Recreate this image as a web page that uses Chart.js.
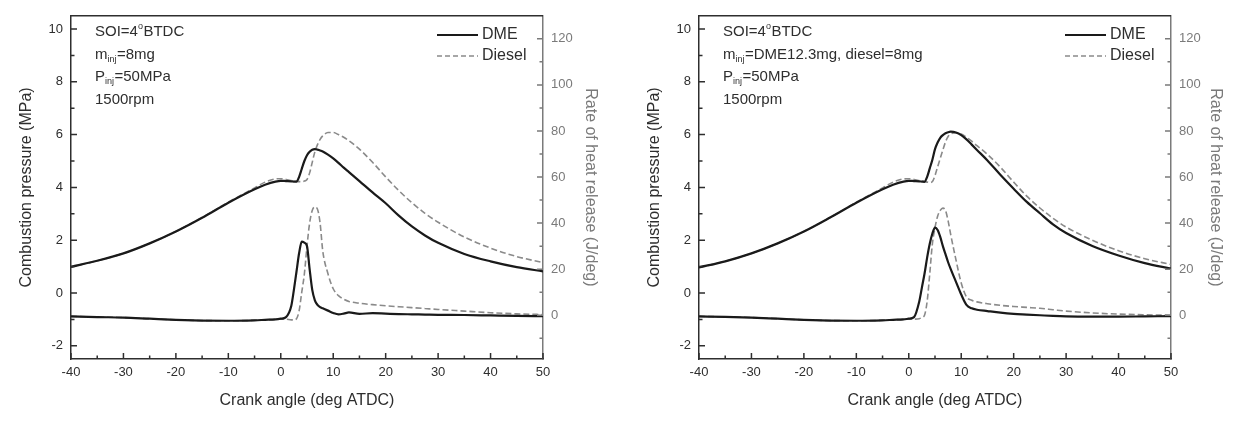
<!DOCTYPE html>
<html>
<head>
<meta charset="utf-8">
<script src="https://cdn.jsdelivr.net/npm/chart.js@4.4.1/dist/chart.umd.min.js"></script>
<style>
  html, body { margin: 0; padding: 0; background: #fff; }
  #wrap { position: relative; width: 1238px; height: 431px; }
  .panel { position: absolute; top: 0; width: 619px; height: 431px; }
</style>
</head>
<body>
<div id="wrap">
  <div class="panel" style="left:0"><canvas id="chartA"></canvas></div>
  <div class="panel" style="left:619px"><canvas id="chartB"></canvas></div>
</div>
<script>
// crank angle samples (deg ATDC), shared by every series
const crankAngle = [-40, -35, -30, -25, -20, -15, -10, -5, -3, -1, 0, 1, 2, 2.5, 3, 3.5, 4, 4.5, 5, 5.5,
  6, 6.5, 7, 7.5, 8, 9, 10, 11, 12, 13, 15, 17.5, 20, 22.5, 25, 27.5, 30, 35, 40, 45, 50];

// left panel: m_inj = 8mg
const dmePressA = [0.99, 1.22, 1.5, 1.88, 2.33, 2.85, 3.42, 3.93, 4.1, 4.22, 4.25, 4.24, 4.23, 4.22, 4.22, 4.4, 4.7, 5.0, 5.22, 5.35,
  5.43, 5.45, 5.43, 5.4, 5.36, 5.24, 5.1, 4.93, 4.75, 4.58, 4.24, 3.81, 3.4, 2.93, 2.52, 2.18, 1.9, 1.48, 1.2, 0.98, 0.82];
const dieselPressA = [0.99, 1.22, 1.5, 1.88, 2.33, 2.86, 3.44, 3.98, 4.2, 4.32, 4.33, 4.3, 4.26, 4.24, 4.22, 4.22, 4.22, 4.24, 4.3, 4.55,
  4.95, 5.35, 5.62, 5.82, 5.95, 6.08, 6.08, 6.0, 5.9, 5.77, 5.45, 4.95, 4.4, 3.88, 3.42, 3.02, 2.68, 2.12, 1.7, 1.38, 1.15];
const dmeHeatA = [-0.5, -0.8, -1, -1.5, -2, -2.3, -2.4, -2.2, -2, -1.8, -1.5, -0.8, 4, 11, 19, 27, 32, 31.5, 30, 20,
  11, 6.5, 4.5, 3.5, 3, 2, 1, 0.4, 0.7, 1.2, 0.6, 0.9, 0.7, 0.5, 0.4, 0.3, 0.2, 0.1, -0.1, -0.3, -0.4];
const dieselHeatA = [-0.5, -0.8, -1, -1.5, -2, -2.3, -2.4, -2.2, -2, -1.8, -1.7, -1.7, -2, -2, -1.5, 2, 10, 18, 30, 40,
  45.5, 47, 46, 40, 28, 18, 11.5, 8.5, 7, 6, 5.2, 4.6, 4.1, 3.7, 3.3, 2.9, 2.5, 1.8, 1.1, 0.6, 0.3];

// right panel: m_inj = DME 12.3mg, diesel 8mg
const dmePressB = [0.97, 1.2, 1.5, 1.88, 2.33, 2.86, 3.42, 3.93, 4.1, 4.22, 4.25, 4.24, 4.23, 4.22, 4.21, 4.4, 4.72, 5.05, 5.45, 5.7,
  5.88, 5.98, 6.05, 6.09, 6.11, 6.08, 5.98, 5.82, 5.62, 5.42, 5.02, 4.47, 3.95, 3.45, 3.02, 2.6, 2.27, 1.78, 1.42, 1.13, 0.92];
const dieselPressB = [0.97, 1.2, 1.5, 1.88, 2.33, 2.86, 3.44, 3.98, 4.2, 4.32, 4.33, 4.3, 4.26, 4.24, 4.22, 4.2, 4.18, 4.22, 4.45, 4.78,
  5.1, 5.42, 5.72, 5.93, 6.02, 6.07, 6.02, 5.9, 5.75, 5.58, 5.25, 4.76, 4.2, 3.67, 3.22, 2.83, 2.5, 2.0, 1.6, 1.3, 1.08];
const dmeHeatB = [-0.5, -0.7, -1, -1.5, -2, -2.3, -2.4, -2.2, -2, -1.8, -1.5, -0.8, 6, 12, 18, 25, 31, 35.5, 38, 37,
  34, 30, 26.5, 23, 20, 14.5, 9, 4.5, 3, 2.4, 1.8, 1.1, 0.6, 0.3, 0, -0.3, -0.5, -0.6, -0.6, -0.5, -0.4];
const dieselHeatB = [-0.5, -0.7, -1, -1.5, -2, -2.3, -2.4, -2.2, -2, -1.8, -1.7, -1.7, -1.5, -1, 0, 6, 18, 31, 38, 43,
  45.5, 46.5, 45.5, 41, 35, 24, 14, 8, 6.5, 5.8, 5, 4.3, 3.8, 3.4, 3, 2.4, 1.8, 1, 0.5, 0.2, 0];

// axis ticks
const angleTicks = [-40, -30, -20, -10, 0, 10, 20, 30, 40, 50];
const angleMinor = [-35, -25, -15, -5, 5, 15, 25, 35, 45];
const pressTicks = [-2, 0, 2, 4, 6, 8, 10];
const pressMinor = [-1, 1, 3, 5, 7, 9];
const heatTicks = [0, 20, 40, 60, 80, 100, 120];
const heatMinor = [-10, 10, 30, 50, 70, 90, 110];

const FONT = '"Liberation Sans", Arial, sans-serif';
const DARK = '#2e2e2e';
const GREY = '#7a7a7a';

function pts(ys) {
  return crankAngle.map((x, i) => ({ x: x, y: ys[i] }));
}

// draws inward ticks, the frame, the notes and the legend
const decorPlugin = {
  id: 'decor',
  afterDraw(chart, args, opts) {
    const ctx = chart.ctx;
    const a = chart.chartArea;
    const sx = chart.scales.x, sp = chart.scales.yP, sh = chart.scales.yH;
    ctx.save();
    ctx.lineWidth = 1.5;

    ctx.strokeStyle = DARK;
    ctx.beginPath();
    ctx.moveTo(a.left, a.top);
    ctx.lineTo(a.right, a.top);
    angleTicks.forEach(v => { const p = sx.getPixelForValue(v); ctx.moveTo(p, a.bottom); ctx.lineTo(p, a.bottom - 6); });
    angleMinor.forEach(v => { const p = sx.getPixelForValue(v); ctx.moveTo(p, a.bottom); ctx.lineTo(p, a.bottom - 3.5); });
    pressTicks.forEach(v => { const p = sp.getPixelForValue(v); ctx.moveTo(a.left, p); ctx.lineTo(a.left + 6, p); });
    pressMinor.forEach(v => { const p = sp.getPixelForValue(v); ctx.moveTo(a.left, p); ctx.lineTo(a.left + 3.5, p); });
    ctx.stroke();

    ctx.strokeStyle = GREY;
    ctx.beginPath();
    heatTicks.forEach(v => { const p = sh.getPixelForValue(v); ctx.moveTo(a.right, p); ctx.lineTo(a.right - 6, p); });
    heatMinor.forEach(v => { const p = sh.getPixelForValue(v); ctx.moveTo(a.right, p); ctx.lineTo(a.right - 3.5, p); });
    ctx.stroke();

    // condition notes, with sub/superscripts
    ctx.fillStyle = DARK;
    ctx.textBaseline = 'middle';
    ctx.textAlign = 'left';
    const big = '15px ' + FONT, small = '9px ' + FONT;
    const x0 = a.left + 24;
    opts.notes.forEach((parts, row) => {
      let x = x0;
      const y = 32 + row * 22.5;
      parts.forEach(([txt, kind]) => {
        ctx.font = kind ? small : big;
        const dy = kind === 'sub' ? 5 : kind === 'sup' ? -5 : 0;
        ctx.fillText(txt, x, y + dy);
        x += ctx.measureText(txt).width + (kind ? 0.5 : 0);
      });
    });

    // legend
    const lx = a.right - 106;
    ctx.font = '16px ' + FONT;
    ctx.lineWidth = 2.2;
    ctx.strokeStyle = '#1a1a1a';
    ctx.beginPath(); ctx.moveTo(lx, 35); ctx.lineTo(lx + 41, 35); ctx.stroke();
    ctx.fillText('DME', lx + 45, 35);
    ctx.lineWidth = 1.6;
    ctx.strokeStyle = '#8a8a8a';
    ctx.setLineDash([5, 3]);
    ctx.beginPath(); ctx.moveTo(lx, 56); ctx.lineTo(lx + 41, 56); ctx.stroke();
    ctx.setLineDash([]);
    ctx.fillText('Diesel', lx + 45, 56);
    ctx.restore();
  }
};

function makeChart(id, series, layout) {
  const tickFont = { family: FONT, size: 13 };
  const titleFont = { family: FONT, size: 16 };
  return new Chart(document.getElementById(id), {
    type: 'line',
    data: {
      datasets: [
        { label: 'DME', data: pts(series.dmePress), yAxisID: 'yP', borderColor: '#1a1a1a', borderWidth: 2.2 },
        { label: 'DME', data: pts(series.dmeHeat), yAxisID: 'yH', borderColor: '#1a1a1a', borderWidth: 2.2 },
        { label: 'Diesel', data: pts(series.dieselPress), yAxisID: 'yP', borderColor: '#8a8a8a', borderWidth: 1.6, borderDash: [6, 3] },
        { label: 'Diesel', data: pts(series.dieselHeat), yAxisID: 'yH', borderColor: '#8a8a8a', borderWidth: 1.6, borderDash: [6, 3] }
      ]
    },
    options: {
      responsive: true,
      maintainAspectRatio: false,
      animation: false,
      devicePixelRatio: 1,
      layout: { padding: { top: 11, left: 0, right: 0, bottom: 0 } },
      elements: {
        point: { radius: 0 },
        line: { cubicInterpolationMode: 'monotone', fill: false }
      },
      plugins: {
        legend: { display: false },
        tooltip: { enabled: false },
        decor: { notes: series.notes }
      },
      scales: {
        x: {
          type: 'linear', position: 'bottom', min: -40, max: 50,
          afterBuildTicks: s => { s.ticks = angleTicks.map(v => ({ value: v })); },
          afterFit: s => { s.height = 72; },
          ticks: { font: tickFont, color: DARK, padding: 6, maxRotation: 0, autoSkip: false },
          grid: { drawOnChartArea: false, drawTicks: false },
          border: { display: true, color: DARK, width: 1.5 },
          title: { display: true, text: 'Crank angle (deg ATDC)', font: titleFont, color: DARK, padding: { top: 0, bottom: 21 } }
        },
        yP: {
          type: 'linear', position: 'left', min: -2.5, max: 10.5,
          afterBuildTicks: s => { s.ticks = pressTicks.map(v => ({ value: v })); },
          afterFit: s => { s.width = layout.left; },
          ticks: { font: tickFont, color: DARK, padding: 8 },
          grid: { drawOnChartArea: false, drawTicks: false },
          border: { display: true, color: DARK, width: 1.5 },
          title: { display: true, text: 'Combustion pressure (MPa)', font: titleFont, color: DARK, padding: { top: layout.leftTitle, bottom: 0 } }
        },
        yH: {
          type: 'linear', position: 'right', min: -19, max: 130,
          afterBuildTicks: s => { s.ticks = heatTicks.map(v => ({ value: v })); },
          afterFit: s => { s.width = layout.right; },
          ticks: { font: tickFont, color: GREY, padding: 8 },
          grid: { drawOnChartArea: false, drawTicks: false },
          border: { display: true, color: GREY, width: 1.5 },
          title: { display: true, text: 'Rate of heat release (J/deg)', font: titleFont, color: GREY, padding: { top: layout.rightTitle, bottom: 0 } }
        }
      }
    },
    plugins: [decorPlugin]
  });
}

makeChart('chartA', {
  dmePress: dmePressA, dieselPress: dieselPressA, dmeHeat: dmeHeatA, dieselHeat: dieselHeatA,
  notes: [
    [['SOI=4'], ['o', 'sup'], ['BTDC']],
    [['m'], ['inj', 'sub'], ['=8mg']],
    [['P'], ['inj', 'sub'], ['=50MPa']],
    [['1500rpm']]
  ]
}, { left: 71, right: 76, leftTitle: 17, rightTitle: 19 });

makeChart('chartB', {
  dmePress: dmePressB, dieselPress: dieselPressB, dmeHeat: dmeHeatB, dieselHeat: dieselHeatB,
  notes: [
    [['SOI=4'], ['o', 'sup'], ['BTDC']],
    [['m'], ['inj', 'sub'], ['=DME12.3mg, diesel=8mg']],
    [['P'], ['inj', 'sub'], ['=50MPa']],
    [['1500rpm']]
  ]
}, { left: 80, right: 67, leftTitle: 26, rightTitle: 13 });
</script>
</body>
</html>
